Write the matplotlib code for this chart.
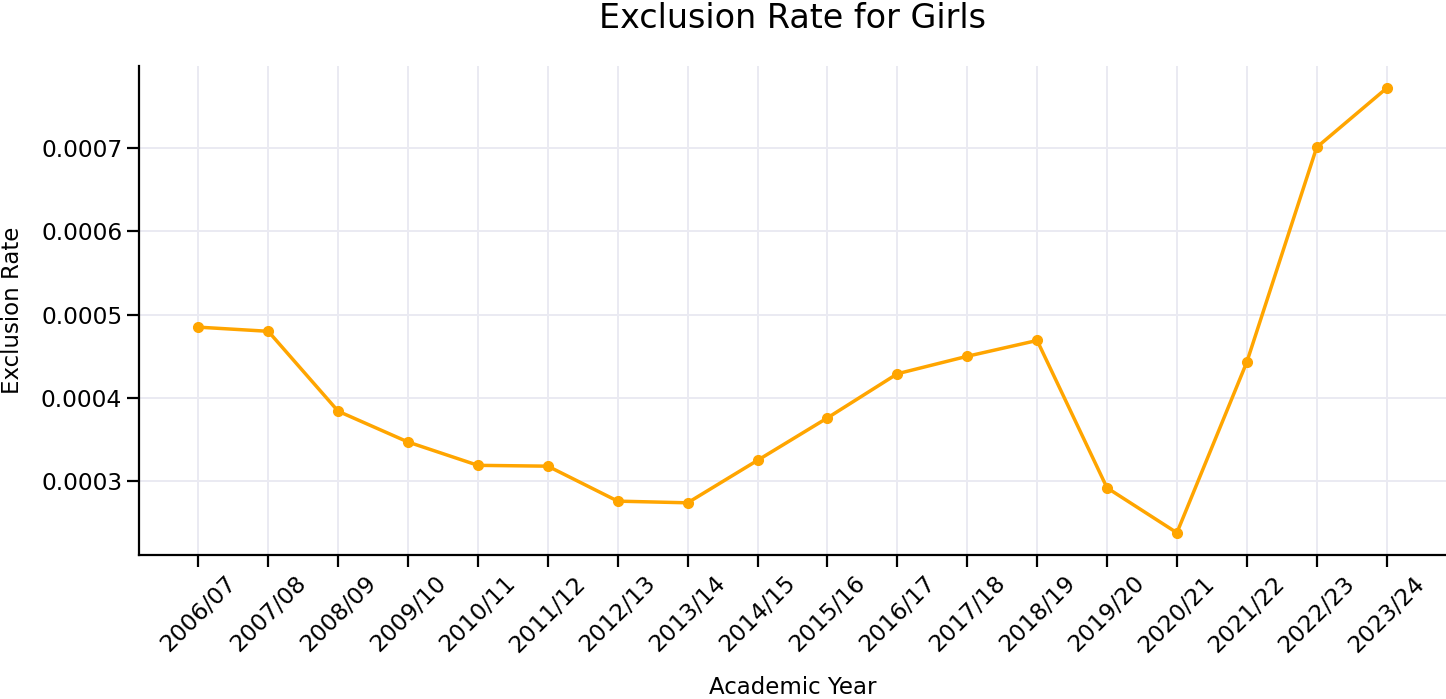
import matplotlib
matplotlib.use("Agg")
import matplotlib.pyplot as plt

years = ["2006/07", "2007/08", "2008/09", "2009/10", "2010/11", "2011/12",
         "2012/13", "2013/14", "2014/15", "2015/16", "2016/17", "2017/18",
         "2018/19", "2019/20", "2020/21", "2021/22", "2022/23", "2023/24"]
rates = [0.000485, 0.000480, 0.000384, 0.000347, 0.000319, 0.000318,
         0.000276, 0.000274, 0.000325, 0.000376, 0.000429, 0.000450,
         0.000469, 0.000292, 0.000238, 0.000443, 0.000701, 0.000772]

fig = plt.figure(figsize=(14.46, 6.99), dpi=100)
ax = fig.add_axes([0.0961, 0.206, 0.9039, 0.6996])

ax.plot(years, rates, color="orange", marker="o", linewidth=2.5, markersize=7)

ax.grid(True, color="#EAEAF2", linewidth=1.4)
ax.set_axisbelow(True)
for s in ["top", "right"]:
    ax.spines[s].set_visible(False)
for s in ["left", "bottom"]:
    ax.spines[s].set_linewidth(1.6)
ax.tick_params(length=8.5, width=1.6, labelsize=16.8)
plt.setp(ax.get_xticklabels(), rotation=45)

ax.set_title("Exclusion Rate for Girls", fontsize=24, pad=27)
ax.set_xlabel("Academic Year", fontsize=16.5, labelpad=14)
ax.set_ylabel("Exclusion Rate", fontsize=16.5, labelpad=12)

fig.savefig("out.png", dpi=100)
